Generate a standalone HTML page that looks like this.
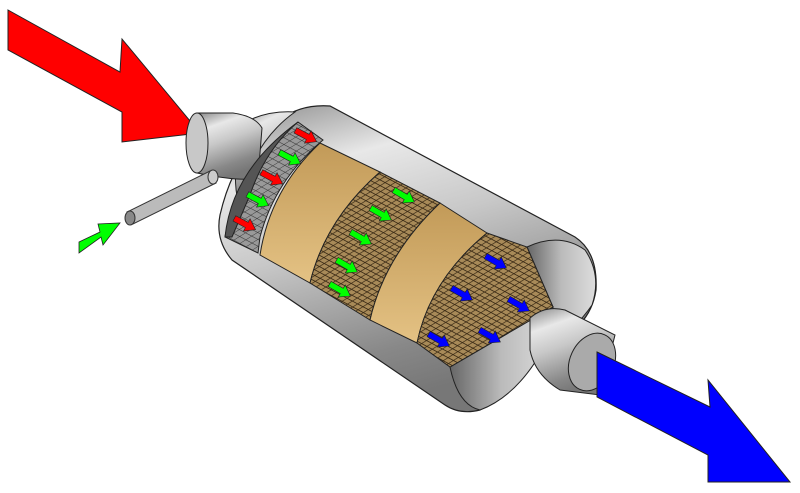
<!DOCTYPE html>
<html><head><style>html,body{margin:0;padding:0;background:#fff}svg{display:block}</style></head>
<body>
<svg width="800" height="493" viewBox="0 0 800 493" xmlns="http://www.w3.org/2000/svg">
<defs>
<linearGradient id="metal" x1="0" y1="0" x2="0.35" y2="1">
<stop offset="0" stop-color="#888"/><stop offset="0.25" stop-color="#e8e8e8"/><stop offset="0.5" stop-color="#c8c8c8"/><stop offset="0.85" stop-color="#888"/><stop offset="1" stop-color="#777"/>
</linearGradient>
<linearGradient id="metal2" x1="0" y1="0" x2="1" y2="0">
<stop offset="0" stop-color="#666"/><stop offset="0.5" stop-color="#bbb"/><stop offset="1" stop-color="#ddd"/>
</linearGradient>
<linearGradient id="tan" x1="0" y1="0" x2="0" y2="1">
<stop offset="0" stop-color="#c29a58"/><stop offset="1" stop-color="#e4c284"/>
</linearGradient>
<pattern id="mesh" width="6" height="5" patternUnits="userSpaceOnUse" patternTransform="rotate(28) skewX(-30)">
<rect width="6" height="5" fill="#a88a58"/>
<path d="M0 0H6M0 0V5" stroke="#3a2a15" stroke-width="1.6"/>
</pattern>
<pattern id="mesh2" width="7" height="6" patternUnits="userSpaceOnUse" patternTransform="rotate(28) skewX(-30)">
<rect width="7" height="6" fill="#999"/>
<path d="M0 0H7M0 0V6" stroke="#333" stroke-width="1"/>
</pattern>
<path id="arr" d="M-12 -3 L2 -3 L2 -7 L12 0 L2 7 L2 3 L-12 3 Z" stroke="#222" stroke-width="0.6"/>
</defs>

<polygon points="8,10 120,72 122,39 200,133 122,142 122,112 8,50" fill="#f00" stroke="#222" stroke-width="1"/>

<!-- main body -->
<path d="M280,120 Q300,104 330,106 L575,237 Q598,252 596,290 Q590,330 545,345 L480,410 Q460,415 445,405 L232,260 Q215,240 220,215 Q235,150 280,120 Z" fill="url(#metal)" stroke="#222" stroke-width="1.2"/>
<!-- right end cap -->
<path d="M527,247 Q560,232 585,250 Q602,275 592,305 Q575,330 553,340 L553,307 Z" fill="url(#metal2)" stroke="#222"/>
<path d="M450,367 L553,307 L548,340 Q520,395 480,410 Q458,405 450,367 Z" fill="url(#metal2)" stroke="#222"/>

<!-- inlet cone & pipe -->
<path d="M240,125 Q265,110 295,112 Q255,140 238,200 Q232,180 240,125 Z" fill="url(#metal)" stroke="#222"/>
<path d="M197,113 L233,113 Q255,116 262,128 L258,178 Q240,182 197,173 Z" fill="url(#metal)" stroke="#222"/>
<ellipse cx="197" cy="143" rx="11" ry="30" fill="#c8c8c8" stroke="#222"/>

<!-- left chamber -->
<path d="M298,122 L323,140 Q275,180 260,237 L258,253 L225,237 Q235,170 298,122 Z" fill="url(#mesh2)" stroke="#222"/>
<path d="M298,122 Q265,150 250,195 L232,237 L225,237 Q232,170 298,122 Z" fill="#555" stroke="#222"/>
<path d="M320,143 L380,172 Q325,220 310,283 L260,255 Q270,190 320,143 Z" fill="url(#tan)" stroke="#222"/>
<path d="M380,172 L440,203 Q385,255 370,320 L310,283 Q325,220 380,172 Z" fill="url(#mesh)" stroke="#222"/>
<path d="M440,203 L487,233 Q430,280 417,343 L370,320 Q385,255 440,203 Z" fill="url(#tan)" stroke="#222"/>
<path d="M487,233 L527,247 L553,307 L450,367 L417,343 Q430,280 487,233 Z" fill="url(#mesh)" stroke="#222"/>

<g transform="translate(306,136) rotate(28)"><use href="#arr" fill="#f00"/></g>
<g transform="translate(290,158) rotate(28)"><use href="#arr" fill="#0f0"/></g>
<g transform="translate(272,178) rotate(28)"><use href="#arr" fill="#f00"/></g>
<g transform="translate(258,200) rotate(28)"><use href="#arr" fill="#0f0"/></g>
<g transform="translate(245,224) rotate(28)"><use href="#arr" fill="#f00"/></g>

<g transform="translate(404,196) rotate(30)"><use href="#arr" fill="#0f0"/></g>
<g transform="translate(381,214) rotate(30)"><use href="#arr" fill="#0f0"/></g>
<g transform="translate(361,238) rotate(30)"><use href="#arr" fill="#0f0"/></g>
<g transform="translate(347,266) rotate(30)"><use href="#arr" fill="#0f0"/></g>
<g transform="translate(340,290) rotate(30)"><use href="#arr" fill="#0f0"/></g>
<g transform="translate(496,262) rotate(30)"><use href="#arr" fill="#00f"/></g>
<g transform="translate(462,294) rotate(30)"><use href="#arr" fill="#00f"/></g>
<g transform="translate(519,305) rotate(30)"><use href="#arr" fill="#00f"/></g>
<g transform="translate(439,340) rotate(30)"><use href="#arr" fill="#00f"/></g>
<g transform="translate(490,336) rotate(30)"><use href="#arr" fill="#00f"/></g>

<!-- outlet pipe -->
<path d="M530,318 Q545,305 565,310 L615,335 L600,395 L560,390 Q535,375 530,350 Z" fill="url(#metal)" stroke="#222"/>
<ellipse cx="592" cy="362" rx="22" ry="30" transform="rotate(25 592 362)" fill="#aaa" stroke="#222"/>

<polygon points="597,352 710,407 708,380 790,482 708,482 708,455 597,397" fill="#00f" stroke="#222" stroke-width="1"/>

<!-- injector -->
<path d="M127,212 L210,171 L216,183 L133,224 Z" fill="#bbb" stroke="#333"/>
<ellipse cx="213" cy="177" rx="5" ry="7" fill="#ccc" stroke="#333"/>
<ellipse cx="130" cy="218" rx="5" ry="7" fill="#888" stroke="#333"/>

<polygon points="79,242 100,232 98,224 120,223 103,245 101,237 79,253" fill="#0f0" stroke="#222" stroke-width="0.8"/>
</svg>
</body></html>
